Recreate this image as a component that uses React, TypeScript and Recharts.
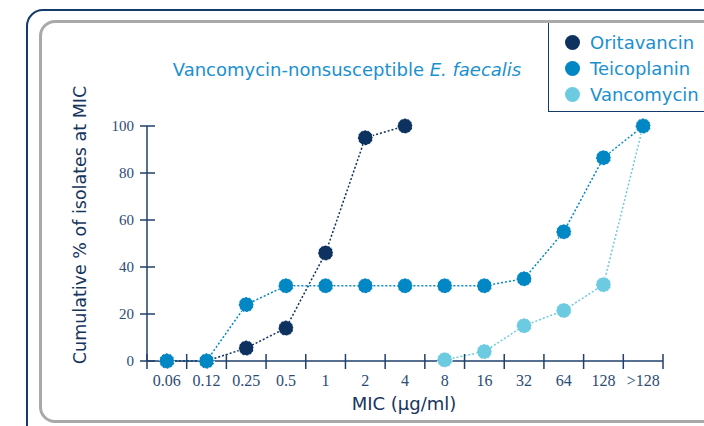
import React from 'react'
import { LineChart, Line, XAxis, YAxis, Label } from 'recharts'

const categories = ['0.06', '0.12', '0.25', '0.5', '1', '2', '4', '8', '16', '32', '64', '128', '>128']
const oritavancin = [0, 0, 5.5, 14, 46, 95, 100, null, null, null, null, null, null]
const teicoplanin = [0, 0, 24, 32, 32, 32, 32, 32, 32, 35, 55, 86.5, 100]
const vancomycin = [null, null, null, null, null, null, null, 0.5, 4, 15, 21.5, 32.5, 100]
const yTicks = [0, 20, 40, 60, 80, 100]

const NAVY = '#123b69'
const AXIS = '#1f416d'
const TITLE_BLUE = '#1a90cf'
const C_ORI = '#0d3260'
const C_TEI = '#0187c4'
const C_VAN = '#6ccbe1'

const W = 704
const H = 426
const M = { top: 126, right: 41, bottom: 35, left: 0 }
const Y_W = 147
const HALF_BAND = (W - M.left - Y_W - M.right) / categories.length / 2

const data = categories.map((c, i) => ({
  idx: i,
  mic: c,
  oritavancin: oritavancin[i],
  teicoplanin: teicoplanin[i],
  vancomycin: vancomycin[i],
}))

const xTicks = [...categories.map((_, i) => i - 0.5), categories.length - 0.5]

const serif = '"Liberation Serif", "DejaVu Serif", serif'
const sans = '"DejaVu Sans", sans-serif'

function XTick(props: any) {
  const { x, y, payload } = props
  const i = Math.round(payload.value + 0.5)
  return (
    <g>
      <line x1={x} x2={x} y1={y - 7} y2={y + 8} stroke={AXIS} strokeWidth={1.5} />
      {i < categories.length ? (
        <text x={x + HALF_BAND} y={y + 25} textAnchor="middle" fontFamily={serif} fontSize={16} fill="#2b4b73">
          {categories[i]}
        </text>
      ) : null}
    </g>
  )
}

function YTick(props: any) {
  const { x, y, payload } = props
  return (
    <g>
      <line x1={x - 7} x2={x + 8} y1={y} y2={y} stroke={AXIS} strokeWidth={1.5} />
      <text x={x - 13} y={y + 5} textAnchor="end" fontFamily={serif} fontSize={15} fill="#2b4b73">
        {payload.value}
      </text>
    </g>
  )
}

const legendItems = [
  { name: 'Oritavancin', color: C_ORI },
  { name: 'Teicoplanin', color: C_TEI },
  { name: 'Vancomycin', color: C_VAN },
]

function LegendBox() {
  return (
    <div
      style={{
        position: 'absolute',
        left: 548,
        top: 23,
        width: 170,
        height: 89,
        boxSizing: 'border-box',
        background: '#fff',
        borderLeft: `1.5px solid ${NAVY}`,
        borderBottom: `1.5px solid ${NAVY}`,
        paddingTop: 6,
        paddingLeft: 16,
      }}
    >
      {legendItems.map((it) => (
        <div key={it.name} style={{ display: 'flex', alignItems: 'center', height: 26 }}>
          <span
            style={{
              width: 15,
              height: 15,
              borderRadius: '50%',
              background: it.color,
              display: 'inline-block',
              marginRight: 10,
            }}
          />
          <span style={{ fontFamily: sans, fontSize: 18, color: TITLE_BLUE, whiteSpace: 'nowrap' }}>{it.name}</span>
        </div>
      ))}
    </div>
  )
}

const dotStyle = (color: string) => ({ r: 7.5, fill: color, stroke: '#fff', strokeWidth: 1 })

export default function App() {
  return (
    <div style={{ position: 'absolute', left: 0, top: 0, width: W, height: H, overflow: 'hidden', background: '#fff' }}>
      <div
        style={{
          position: 'absolute',
          left: 26,
          top: 9,
          width: 720,
          height: 460,
          boxSizing: 'border-box',
          border: `2.5px solid ${NAVY}`,
          borderRadius: 17,
        }}
      />
      <div
        style={{
          position: 'absolute',
          left: 39,
          top: 20,
          width: 700,
          height: 403,
          boxSizing: 'border-box',
          border: '3px solid #a9a9a9',
          borderRadius: 16,
        }}
      />
      <div
        style={{
          position: 'absolute',
          left: 0,
          width: 694,
          top: 59,
          textAlign: 'center',
          fontFamily: sans,
          fontSize: 18,
          color: TITLE_BLUE,
          whiteSpace: 'nowrap',
        }}
      >
        Vancomycin-nonsusceptible <i>E. faecalis</i>
      </div>
      <LegendBox />
      <div style={{ position: 'absolute', left: 0, top: 0 }}>
        <LineChart width={W} height={H} data={data} margin={M}>
          <XAxis
            dataKey="idx"
            type="number"
            domain={[-0.5, categories.length - 0.5]}
            ticks={xTicks}
            interval={0}
            height={30}
            tickSize={0}
            tickMargin={0}
            tickLine={false}
            axisLine={{ stroke: AXIS, strokeWidth: 1.5 }}
            tick={<XTick />}
          >
            <Label
              content={(p: any) => (
                <text
                  x={p.viewBox.x + p.viewBox.width / 2 - 1}
                  y={p.viewBox.y + 49}
                  textAnchor="middle"
                  fontFamily={sans}
                  fontSize={18}
                  fill="#16355e"
                >
                  MIC (µg/ml)
                </text>
              )}
            />
          </XAxis>
          <YAxis
            type="number"
            domain={[0, 100]}
            ticks={yTicks}
            width={Y_W}
            tickSize={0}
            tickMargin={0}
            tickLine={false}
            axisLine={{ stroke: AXIS, strokeWidth: 1.5 }}
            tick={<YTick />}
          >
            <Label
              content={() => (
                <text
                  x={80}
                  y={225}
                  transform="rotate(-90 80 225)"
                  textAnchor="middle"
                  dominantBaseline="central"
                  fontFamily={sans}
                  fontSize={17.5}
                  fill="#16355e"
                >
                  Cumulative % of isolates at MIC
                </text>
              )}
            />
          </YAxis>
          <Line
            dataKey="vancomycin"
            stroke={C_VAN}
            strokeWidth={1.5}
            strokeDasharray="2 2"
            dot={dotStyle(C_VAN)}
            activeDot={false}
            isAnimationActive={false}
          />
          <Line
            dataKey="oritavancin"
            stroke={C_ORI}
            strokeWidth={1.5}
            strokeDasharray="2 2"
            dot={dotStyle(C_ORI)}
            activeDot={false}
            isAnimationActive={false}
          />
          <Line
            dataKey="teicoplanin"
            stroke={C_TEI}
            strokeWidth={1.5}
            strokeDasharray="2 2"
            dot={dotStyle(C_TEI)}
            activeDot={false}
            isAnimationActive={false}
          />
        </LineChart>
      </div>
    </div>
  )
}
